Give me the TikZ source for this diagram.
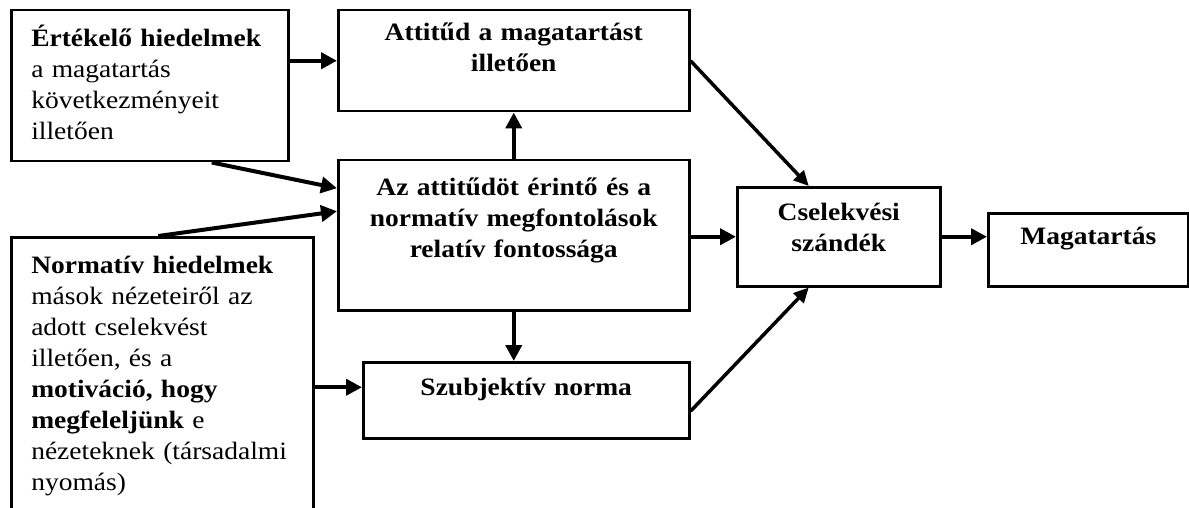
\documentclass[tikz,border=0pt]{standalone}
\usepackage{fontspec}
\setmainfont{Liberation Serif}[FakeStretch=1.1]
\usetikzlibrary{arrows.meta}

\begin{document}
\begin{tikzpicture}[x=1pt,y=-1pt,
  every node/.style={font=\fontsize{25}{31}\selectfont\bfseries,inner ysep=0pt,inner xsep=10pt,anchor=north west},
  box/.style={draw,line width=2.5pt,align=center},
  textbox/.style={box,align=left,inner xsep=20pt,font=\fontsize{25}{31}\selectfont},
  arr/.style={line width=4pt,-{Triangle[length=16pt,width=16pt]}},
  diag/.style={line width=3.5pt,-{Triangle[length=15pt,width=14pt]}}]
\useasboundingbox (0,0) rectangle (1189,508);

% belief boxes
\node[textbox,text width=237pt,text height=36pt,text depth=115pt] (eval) at (10,9)
  {\textbf{Értékelő hiedelmek}\\a magatartás\\következményeit\\illetően};
\node[textbox,text width=262pt,text height=36pt,text depth=300pt] (norm) at (10,236)
  {\textbf{Normatív hiedelmek}\\mások nézeteiről az\\adott cselekvést\\illetően, és a\\
   \textbf{motiváció, hogy}\\\textbf{megfeleljünk} e\\nézeteknek (társadalmi\\nyomás)};

% middle column
\node[box,text width=331pt,text height=30pt,text depth=71pt] (att) at (337,9)
  {Attitűd a magatartást\\illetően};
\node[box,text width=331pt,text height=35pt,text depth=115pt] (rel) at (337,159)
  {Az attitűdöt érintő és a\\normatív megfontolások\\relatív fontossága};
\node[box,text width=306pt,text height=33pt,text depth=43pt] (subj) at (362,361)
  {Szubjektív norma};

% right column
\node[box,text width=183pt,text height=33pt,text depth=66pt] (int) at (736,186)
  {Cselekvési\\szándék};
\node[box,text width=180pt,text height=31pt,text depth=42pt] (beh) at (987,212)
  {Magatartás};

\coordinate (nin) at ([yshift=13pt]subj.west);

% arrows
\draw[arr] (eval.east |- att.west) -- (att.west);
\draw[arr] ([xshift=62pt]eval.south) -- ([yshift=47pt]rel.west);
\draw[arr] ([xshift=-4pt]norm.north) -- ([yshift=24pt]rel.west);
\draw[arr] (rel.north) -- (rel.north |- att.south);
\draw[arr] (rel.south) -- (rel.south |- subj.north);
\draw[arr] (nin -| norm.east) -- (nin);
\draw[arr] (rel.east |- int.west) -- (int.west);
\draw[arr] (int.east) -- (int.east -| beh.west);
\draw[diag] (att.east) -- ([xshift=-30pt]int.north);
\draw[diag] ([yshift=-11pt]subj.east) -- ([xshift=-30pt]int.south);
\end{tikzpicture}
\end{document}
